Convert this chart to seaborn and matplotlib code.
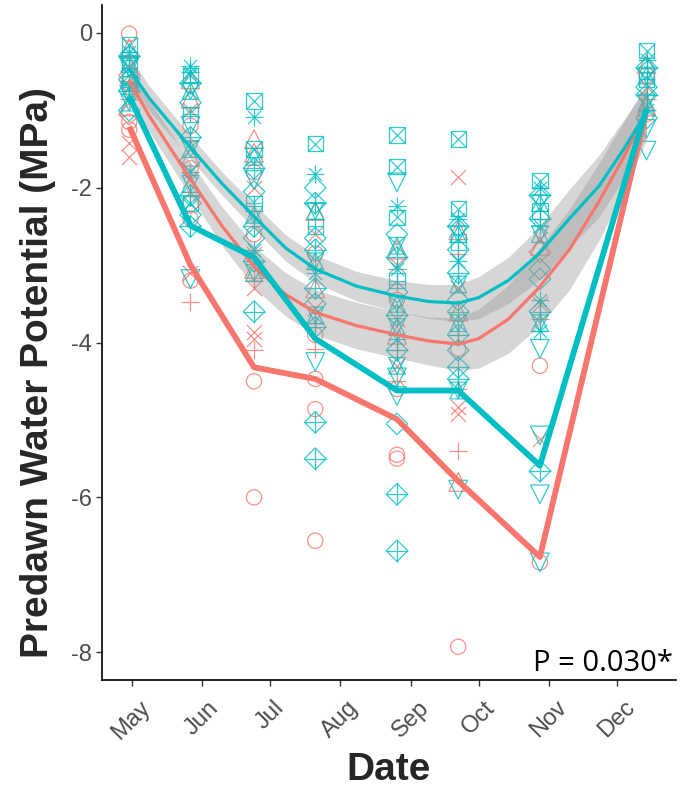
import matplotlib
matplotlib.use("Agg")
import matplotlib.pyplot as plt
import matplotlib.dates as mdates
import pandas as pd
import seaborn as sns

# sampling dates (one column of points per date)
sample_dates = ["2015-04-30", "2015-05-27", "2015-06-24", "2015-07-21",
                "2015-08-26", "2015-09-22", "2015-10-28", "2015-12-14"]

# salmon group: values per date and the symbol of each tree
red_vals = [
    [-0.01, -0.2, -0.3, -0.45, -0.55, -0.65, -0.75, -0.85, -0.95, -1.05, -1.15, -1.25, -1.42, -1.6],
    [-0.6, -0.85, -1.0, -1.2, -1.4, -1.6, -1.75, -1.9, -2.05, -2.2, -2.4, -3.1, -3.2, -3.48],
    [-1.37, -1.55, -1.8, -2.0, -2.3, -2.6, -2.85, -3.05, -3.2, -3.3, -3.86, -3.95, -4.1, -4.5, -6.0],
    [-2.3, -2.6, -2.85, -3.05, -3.3, -3.55, -3.75, -3.9, -4.08, -4.47, -4.86, -6.56],
    [-2.8, -3.0, -3.25, -3.45, -3.7, -3.9, -4.1, -4.3, -4.5, -4.6, -5.45, -5.5],
    [-1.86, -2.55, -2.85, -3.3, -3.6, -3.9, -4.08, -4.6, -4.83, -4.92, -5.4, -5.8, -7.93],
    [-2.66, -2.75, -2.83, -3.5, -3.7, -4.3, -5.25, -6.84],
    [-0.4, -0.55, -0.7, -0.85, -0.95, -1.05],
]
red_shapes = [
    ["circle", "triangle", "plus", "cross", "diamond", "circle", "tridown", "plus", "triangle", "diamond",
     "circle", "circle", "cross", "cross"],
    ["triangle", "triangle", "cross", "circle", "plus", "triangle", "circle", "cross", "plus", "diamond",
     "circle", "cross", "circle", "plus"],
    ["triangle", "triangle", "circle", "cross", "plus", "circle", "cross", "triangle", "plus", "cross",
     "cross", "cross", "plus", "circle", "circle"],
    ["triangle", "cross", "circle", "plus", "triangle", "cross", "plus", "circle", "plus", "circle",
     "circle", "circle"],
    ["triangle", "cross", "plus", "circle", "cross", "triangle", "plus", "cross", "plus", "circle",
     "circle", "circle"],
    ["cross", "triangle", "plus", "cross", "triangle", "plus", "circle", "plus", "cross", "cross",
     "plus", "triangle", "circle"],
    ["cross", "triangle", "diamond", "cross", "plus", "circle", "cross", "circle"],
    ["triangle", "circle", "cross", "plus", "triangle", "circle"],
]

# teal group
blue_vals = [
    [-0.15, -0.25, -0.3, -0.35, -0.4, -0.45, -0.55, -0.6, -0.65, -0.7, -0.75, -0.8, -0.9, -1.0],
    [-0.43, -0.5, -0.55, -0.65, -0.75, -0.9, -1.05, -1.2, -1.35, -1.5, -1.65, -1.8, -1.95, -2.1, -2.2,
     -2.35, -2.5, -3.18],
    [-0.88, -1.09, -1.5, -1.6, -1.75, -1.9, -2.05, -2.2, -2.35, -2.5, -2.65, -2.8, -2.95, -3.1, -3.6],
    [-1.43, -1.82, -2.0, -2.2, -2.3, -2.5, -2.65, -2.8, -2.95, -3.1, -3.3, -3.5, -3.65, -3.8, -4.25,
     -5.03, -5.5],
    [-1.32, -1.73, -1.93, -2.23, -2.38, -2.6, -2.75, -2.9, -3.05, -3.2, -3.35, -3.5, -3.65, -3.8, -3.95,
     -4.1, -4.3, -4.45, -4.69, -5.05, -5.96, -6.69],
    [-1.37, -2.27, -2.4, -2.5, -2.6, -2.7, -2.8, -2.95, -3.1, -3.25, -3.45, -3.6, -3.75, -3.9, -4.1,
     -4.32, -4.47, -4.62, -5.9],
    [-1.91, -2.0, -2.1, -2.2, -2.3, -2.4, -2.5, -2.6, -3.05, -3.18, -3.45, -3.6, -3.75, -3.85, -4.08,
     -5.2, -5.66, -5.96, -6.84],
    [-0.23, -0.35, -0.45, -0.55, -0.6, -0.7, -0.8, -0.9, -1.0, -1.1, -1.24, -1.52],
]
blue_shapes = [
    ["sqcross", "asterisk", "diamplus", "sqplus", "star", "tridown", "sqcross", "diamond", "sqplus",
     "asterisk", "diamplus", "tridown", "star", "diamond"],
    ["asterisk", "asterisk", "sqcross", "diamplus", "star", "diamond", "sqplus", "tridown", "diamplus",
     "star", "diamond", "asterisk", "star", "diamplus", "sqcross", "diamond", "diamplus", "tridown"],
    ["sqcross", "asterisk", "sqcross", "star", "diamplus", "tridown", "diamond", "sqplus", "star",
     "diamplus", "diamond", "asterisk", "diamplus", "star", "diamplus"],
    ["sqcross", "asterisk", "diamond", "diamplus", "star", "sqplus", "diamond", "diamplus", "star",
     "asterisk", "diamplus", "diamond", "star", "diamplus", "tridown", "diamplus", "diamplus"],
    ["sqcross", "sqcross", "tridown", "asterisk", "sqcross", "diamond", "star", "diamplus", "asterisk",
     "sqplus", "diamond", "star", "diamplus", "star", "asterisk", "diamplus", "star", "tridown",
     "tridown", "diamond", "diamplus", "diamplus"],
    ["sqcross", "sqcross", "asterisk", "diamplus", "star", "sqplus", "diamond", "asterisk", "diamplus",
     "star", "diamond", "diamplus", "star", "diamplus", "diamond", "diamplus", "diamplus", "star",
     "tridown"],
    ["sqcross", "asterisk", "diamplus", "star", "sqplus", "diamplus", "asterisk", "star", "diamond",
     "diamond", "asterisk", "diamplus", "star", "asterisk", "tridown", "tridown", "diamplus", "tridown",
     "tridown"],
    ["sqcross", "asterisk", "diamplus", "star", "sqplus", "diamond", "diamplus", "star", "asterisk",
     "diamond", "tridown", "tridown"],
]

# thick lines
red_line = [-1.21, -3.0, -4.32, -4.47, -4.99, -5.79, -6.77, -1.0]
blue_line = [-0.82, -2.49, -2.9, -3.95, -4.62, -4.62, -5.59, -0.98]

# smoothed trends with their confidence half-widths
fit_dates = ["2015-04-30", "2015-05-09", "2015-05-27", "2015-06-10", "2015-06-25", "2015-07-08",
             "2015-07-21", "2015-08-08", "2015-08-26", "2015-09-09", "2015-09-22", "2015-10-01",
             "2015-10-14", "2015-10-27", "2015-11-10", "2015-11-23", "2015-12-04", "2015-12-14"]
red_fit = [-0.62, -1.08, -1.89, -2.5, -3.05, -3.38, -3.61, -3.78, -3.9, -3.98, -4.02, -3.95,
           -3.7, -3.31, -2.8, -2.18, -1.6, -1.02]
red_se = [0.2, 0.2, 0.22, 0.25, 0.27, 0.28, 0.29, 0.3, 0.3, 0.31, 0.34, 0.38,
          0.44, 0.5, 0.52, 0.5, 0.45, 0.36]
blue_fit = [-0.47, -0.85, -1.48, -1.95, -2.4, -2.78, -3.05, -3.27, -3.4, -3.47, -3.49, -3.42,
            -3.2, -2.87, -2.4, -1.98, -1.5, -1.02]
blue_se = [0.17, 0.16, 0.15, 0.15, 0.16, 0.17, 0.18, 0.19, 0.2, 0.22, 0.24, 0.27,
           0.3, 0.34, 0.38, 0.4, 0.38, 0.32]

RED = "#F8766D"
BLUE = "#00BFC4"

# ggplot-like open symbols built from matplotlib markers (marker, area scale)
marker_parts = {
    "circle": [("o", 1.0)],
    "triangle": [("^", 1.5)],
    "tridown": [("v", 1.5)],
    "plus": [("+", 1.4)],
    "cross": [("x", 1.0)],
    "diamond": [("D", 1.0)],
    "sqcross": [("s", 1.0), ("x", 1.0)],
    "sqplus": [("s", 1.0), ("+", 1.0)],
    "asterisk": [("+", 1.5), ("x", 0.75)],
    "diamplus": [("D", 1.0), ("+", 2.0)],
    "star": [("^", 1.2), ("v", 1.2)],
}


def points_frame(vals, shapes):
    rows = []
    for d, vs, ss in zip(sample_dates, vals, shapes):
        for v, s in zip(vs, ss):
            rows.append((pd.Timestamp(d), v, s))
    return pd.DataFrame(rows, columns=["date", "psi", "shape"])


sns.set_style("ticks")
plt.rcParams["font.family"] = ["Liberation Sans", "DejaVu Sans"]
plt.rcParams["axes.unicode_minus"] = False

fig = plt.figure(figsize=(6.81, 7.89), dpi=100)
ax = fig.add_axes([0.1498, 0.1381, 0.8429, 0.8555])

# Points
base = 120
for color, vals, shapes in ((RED, red_vals, red_shapes), (BLUE, blue_vals, blue_shapes)):
    df = points_frame(vals, shapes)
    for shape, parts in marker_parts.items():
        sub = df[df["shape"] == shape]
        if sub.empty:
            continue
        for mk, sc in parts:
            if mk in ("+", "x"):
                sns.scatterplot(data=sub, x="date", y="psi", ax=ax, marker=mk, s=base * sc,
                                color=color, linewidth=0.9, alpha=0.8, legend=False, zorder=2)
            else:
                sns.scatterplot(data=sub, x="date", y="psi", ax=ax, marker=mk, s=base * sc,
                                color=color, facecolor="none", edgecolor=color,
                                linewidth=0.9, alpha=0.8, legend=False, zorder=2)

# Smooth trends with ribbons
fit_x = pd.to_datetime(fit_dates)
for color, fit, se in ((RED, red_fit, red_se), (BLUE, blue_fit, blue_se)):
    lo = [f - e for f, e in zip(fit, se)]
    hi = [f + e for f, e in zip(fit, se)]
    ax.fill_between(fit_x, lo, hi, color="#999999", alpha=0.4, linewidth=0, zorder=3)
for color, fit in ((RED, red_fit), (BLUE, blue_fit)):
    sns.lineplot(x=fit_x, y=fit, ax=ax, color=color, linewidth=2.3, zorder=4)

# Thick lines
line_x = pd.to_datetime(sample_dates)
sns.lineplot(x=line_x, y=red_line, ax=ax, color=RED, linewidth=4.2, zorder=5,
             solid_capstyle="butt", solid_joinstyle="round")
sns.lineplot(x=line_x, y=blue_line, ax=ax, color=BLUE, linewidth=4.2, zorder=5,
             solid_capstyle="butt", solid_joinstyle="round")

# Axes
ax.set_xlim(pd.Timestamp("2015-04-18"), pd.Timestamp("2015-12-27"))
ax.set_ylim(-8.36, 0.36)
ax.xaxis.set_major_locator(mdates.MonthLocator(bymonth=range(5, 13)))
ax.xaxis.set_major_formatter(mdates.DateFormatter("%b"))
ax.set_yticks([0, -2, -4, -6, -8])
ax.tick_params(axis="both", colors="#333333", labelcolor="#4D4D4D", length=4, width=1.0,
               labelsize=17)
ax.tick_params(axis="x", labelrotation=45, pad=8)
ax.tick_params(axis="y", pad=3)
sns.despine(ax=ax)
for side in ("left", "bottom"):
    ax.spines[side].set_linewidth(1.2)
    ax.spines[side].set_color("black")

ax.set_xlabel("Date", fontsize=28, fontweight="bold", labelpad=6)
ax.set_ylabel("Predawn Water Potential (MPa)", fontsize=28, fontweight="bold")
ax.yaxis.set_label_coords(-0.080, 0.455)

ax.text(0.995, 0.014, "P = 0.030*", transform=ax.transAxes, ha="right", va="baseline",
        fontsize=21, family=["Open Sans", "DejaVu Sans"], color="black")

fig.savefig("out.png", dpi=100)
